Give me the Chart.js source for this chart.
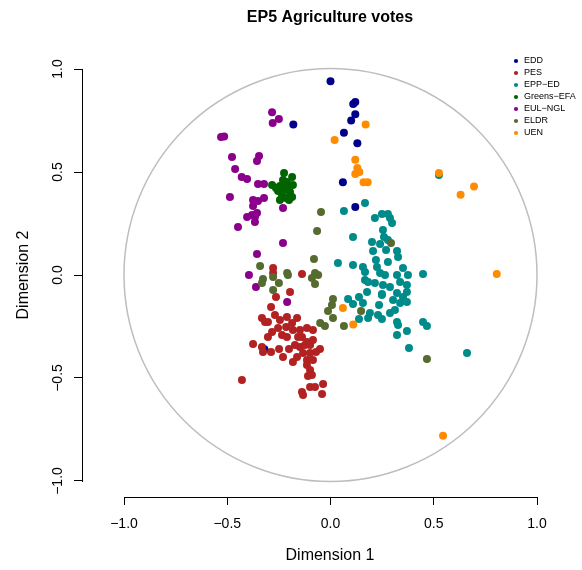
<!DOCTYPE html>
<html>
<head>
<meta charset="utf-8">
<script src="https://cdn.jsdelivr.net/npm/chart.js@4.4.1/dist/chart.umd.min.js"></script>
<style>
  html, body { margin: 0; padding: 0; background: #fff; }
</style>
</head>
<body>
<canvas id="chart" width="582" height="570"></canvas>
<script>
// group names as shown in the legend
const groups = ['EDD', 'PES', 'EPP\u2212ED', 'Greens\u2212EFA', 'EUL\u2212NGL', 'ELDR', 'UEN'];
const colors = ['#00008B', '#B22222', '#008B8B', '#006400', '#8B008B', '#556B2F', '#FF8C00'];

// [dimension 1, dimension 2] per MEP
const edd = [[0.00, 0.94], [0.11, 0.83], [0.12, 0.84], [0.12, 0.78], [0.10, 0.75], [-0.18, 0.73],
  [0.065, 0.69], [0.13, 0.64], [0.06, 0.45], [0.12, 0.33], [-0.32, -0.36]];

const pes = [[-0.278, 0.034], [-0.278, 0.010], [-0.138, 0.005], [-0.196, -0.083], [-0.264, -0.107],
  [-0.288, -0.155], [-0.332, -0.209], [-0.317, -0.228], [-0.269, -0.194], [-0.245, -0.218],
  [-0.211, -0.204], [-0.162, -0.209], [-0.186, -0.233], [-0.303, -0.301], [-0.283, -0.277],
  [-0.254, -0.257], [-0.235, -0.291], [-0.182, -0.267], [-0.375, -0.335], [-0.332, -0.350],
  [-0.327, -0.374], [-0.288, -0.374], [-0.249, -0.359], [-0.230, -0.398], [-0.201, -0.359],
  [-0.182, -0.422], [-0.211, -0.301], [-0.157, -0.301], [-0.138, -0.301], [-0.114, -0.257],
  [-0.085, -0.267], [-0.114, -0.325], [-0.085, -0.316], [-0.051, -0.359], [-0.148, -0.350],
  [-0.133, -0.379], [-0.099, -0.379], [-0.162, -0.398], [-0.114, -0.413], [-0.085, -0.413],
  [-0.114, -0.437], [-0.099, -0.461], [-0.090, -0.485], [-0.109, -0.490], [-0.429, -0.510],
  [-0.138, -0.568], [-0.133, -0.583], [-0.099, -0.544], [-0.075, -0.544], [-0.036, -0.529],
  [-0.041, -0.578], [-0.148, -0.267], [-0.124, -0.340], [-0.172, -0.340], [-0.099, -0.340],
  [-0.070, -0.374], [-0.215, -0.252], [-0.303, -0.228]];

const eppEd = [[0.167, 0.350], [0.065, 0.311], [0.215, 0.277], [0.249, 0.296], [0.278, 0.296],
  [0.288, 0.277], [0.298, 0.252], [0.109, 0.184], [0.254, 0.218], [0.259, 0.184], [0.201, 0.160],
  [0.240, 0.150], [0.278, 0.170], [0.206, 0.117], [0.269, 0.121], [0.322, 0.117], [0.327, 0.087],
  [0.036, 0.058], [0.109, 0.049], [0.157, 0.039], [0.220, 0.073], [0.278, 0.063], [0.225, 0.039],
  [0.240, 0.010], [0.264, 0.000], [0.167, 0.015], [0.322, 0.000], [0.351, 0.034], [0.375, 0.000],
  [0.448, 0.005], [0.182, -0.034], [0.215, -0.039], [0.254, -0.049], [0.288, -0.058],
  [0.337, -0.034], [0.370, -0.049], [0.177, -0.083], [0.249, -0.092], [0.322, -0.087],
  [0.370, -0.083], [0.351, -0.107], [0.085, -0.117], [0.109, -0.141], [0.138, -0.107],
  [0.157, -0.136], [0.235, -0.146], [0.303, -0.121], [0.337, -0.136], [0.370, -0.131],
  [0.191, -0.184], [0.230, -0.194], [0.288, -0.184], [0.312, -0.170], [0.182, -0.209],
  [0.249, -0.214], [0.138, -0.214], [0.322, -0.228], [0.327, -0.243], [0.370, -0.272],
  [0.322, -0.291], [0.380, -0.354], [0.448, -0.228], [0.467, -0.248], [0.661, -0.379],
  [0.525, 0.485], [0.249, -0.097], [0.167, -0.024]];

const greens = [[-0.225, 0.495], [-0.186, 0.476], [-0.230, 0.461], [-0.211, 0.451], [-0.283, 0.437],
  [-0.245, 0.432], [-0.206, 0.432], [-0.182, 0.437], [-0.225, 0.413], [-0.254, 0.408],
  [-0.196, 0.403], [-0.235, 0.388], [-0.186, 0.379], [-0.215, 0.374], [-0.245, 0.364],
  [-0.201, 0.364], [-0.230, 0.437], [-0.264, 0.422]];

const eulNgl = [[-0.283, 0.790], [-0.250, 0.757], [-0.280, 0.738], [-0.530, 0.670], [-0.515, 0.672],
  [-0.477, 0.573], [-0.346, 0.578], [-0.356, 0.553], [-0.462, 0.515], [-0.430, 0.476],
  [-0.404, 0.466], [-0.351, 0.442], [-0.322, 0.442], [-0.487, 0.379], [-0.375, 0.364],
  [-0.351, 0.359], [-0.322, 0.374], [-0.375, 0.335], [-0.404, 0.282], [-0.380, 0.291],
  [-0.366, 0.282], [-0.356, 0.301], [-0.366, 0.257], [-0.448, 0.233], [-0.230, 0.325],
  [-0.230, 0.155], [-0.356, 0.102], [-0.395, 0.000], [-0.361, -0.058], [-0.210, -0.131]];

const eldr = [[-0.046, 0.306], [-0.065, 0.214], [0.293, 0.155], [-0.080, 0.078], [-0.075, 0.010],
  [-0.090, -0.015], [-0.060, 0.000], [-0.075, -0.044], [0.012, -0.117], [0.007, -0.146],
  [-0.012, -0.175], [0.148, -0.175], [0.012, -0.209], [-0.050, -0.233], [-0.027, -0.248],
  [0.065, -0.248], [-0.341, 0.044], [-0.327, -0.020], [-0.332, -0.039], [-0.278, -0.010],
  [-0.250, -0.039], [-0.278, -0.073], [-0.210, 0.010], [-0.206, 0.000], [0.467, -0.408]];

const uen = [[0.170, 0.730], [0.020, 0.655], [0.120, 0.560], [0.130, 0.520], [0.130, 0.500],
  [0.120, 0.490], [0.140, 0.500], [0.160, 0.450], [0.180, 0.450], [0.525, 0.495], [0.695, 0.430],
  [0.630, 0.390], [0.805, 0.005], [0.545, -0.780], [0.060, -0.160], [0.110, -0.240]];

const xTicks = [-1, -0.5, 0, 0.5, 1];
const yTicks = [-1, -0.5, 0, 0.5, 1];

const series = [edd, pes, eppEd, greens, eulNgl, eldr, uen];
const fontFamily = "'Liberation Sans', Arial, Helvetica, sans-serif";
Chart.defaults.font.family = fontFamily;
Chart.defaults.color = '#000';

const fmt = v => (v < 0 ? '\u2212' : '') + Math.abs(v).toFixed(1);

// unit circle + R style axis lines that only span the tick range
const rDecor = {
  id: 'rDecor',
  afterLayout(chart) {
    // put the legend in the top right corner of the plot region
    chart.legend.left = 509.5;
    chart.legend.top = 53.5;
  },
  beforeDatasetsDraw(chart) {
    const { ctx, scales: { x, y }, chartArea } = chart;
    const cx = x.getPixelForValue(0), cy = y.getPixelForValue(0);
    const r = x.getPixelForValue(1) - cx;
    ctx.save();
    ctx.strokeStyle = '#bebebe';
    ctx.lineWidth = 1.5;
    ctx.beginPath();
    ctx.arc(cx, cy, r, 0, Math.PI * 2);
    ctx.stroke();

    ctx.strokeStyle = '#000';
    ctx.lineWidth = 1;
    ctx.beginPath();
    const by = Math.round(chartArea.bottom) + 0.5;
    ctx.moveTo(Math.round(x.getPixelForValue(xTicks[0])), by);
    ctx.lineTo(Math.round(x.getPixelForValue(xTicks[xTicks.length - 1])) + 1, by);
    const lx = Math.round(chartArea.left) + 0.5;
    ctx.moveTo(lx, Math.round(y.getPixelForValue(yTicks[yTicks.length - 1])));
    ctx.lineTo(lx, Math.round(y.getPixelForValue(yTicks[0])) + 1);
    ctx.stroke();
    ctx.restore();
  }
};

new Chart(document.getElementById('chart'), {
  type: 'scatter',
  data: {
    datasets: series.map((pts, i) => ({
      label: groups[i],
      data: pts.map(p => ({ x: p[0], y: p[1] })),
      backgroundColor: colors[i],
      borderColor: colors[i],
      pointRadius: 4,
      pointBorderWidth: 0,
      order: series.length - i
    }))
  },
  options: {
    responsive: false,
    animation: false,
    events: [],
    layout: { padding: { left: 0, right: 4, top: 0, bottom: 0 } },
    scales: {
      x: {
        type: 'linear',
        position: 'bottom',
        min: -1.2034,
        max: 1.1985,
        afterBuildTicks: s => { s.ticks = xTicks.map(v => ({ value: v })); },
        afterFit: s => { s.height = 73; },
        grid: { drawOnChartArea: false, drawTicks: true, tickLength: 8, color: '#000', lineWidth: 1 },
        border: { display: false },
        ticks: { font: { size: 14 }, color: '#000', padding: 11, autoSkip: false, maxRotation: 0, callback: v => fmt(v) },
        title: { display: true, text: 'Dimension 1', font: { size: 16 }, color: '#000', padding: { top: 0, bottom: 5 } }
      },
      y: {
        type: 'linear',
        position: 'left',
        min: -1.0777,
        max: 1.0777,
        afterBuildTicks: s => { s.ticks = yTicks.map(v => ({ value: v })); },
        afterFit: s => { s.width = 82; },
        grid: { drawOnChartArea: false, drawTicks: true, tickLength: 8, color: '#000', lineWidth: 1 },
        border: { display: false },
        ticks: { font: { size: 14 }, color: '#000', padding: 2, autoSkip: false, minRotation: 90, maxRotation: 90, crossAlign: 'center', callback: v => fmt(v) },
        title: { display: true, text: 'Dimension 2', font: { size: 16 }, color: '#000', padding: { top: 14, bottom: 0 } }
      }
    },
    plugins: {
      title: {
        display: true,
        text: 'EP5 Agriculture votes',
        fullSize: false,
        color: '#000',
        font: { size: 16, weight: 'bold' },
        padding: { top: 8, bottom: 25.8 }
      },
      legend: {
        position: 'chartArea',
        align: 'start',
        labels: {
          usePointStyle: true,
          pointStyle: 'circle',
          boxWidth: 7,
          boxHeight: 3,
          padding: 3,
          color: '#000',
          font: { size: 9 },
          sort: (a, b) => a.datasetIndex - b.datasetIndex
        }
      },
      tooltip: { enabled: false }
    }
  },
  plugins: [rDecor]
});
</script>
</body>
</html>
